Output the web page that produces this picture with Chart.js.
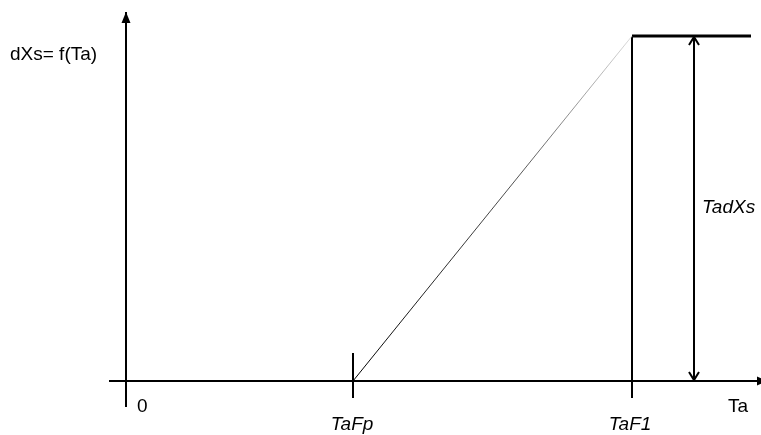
<!DOCTYPE html>
<html>
<head>
<meta charset="utf-8">
<script src="https://cdn.jsdelivr.net/npm/chart.js@4/dist/chart.umd.min.js"></script>
<style>
  body { margin: 0; background: #fff; }
  #wrap { width: 761px; height: 435px; }
</style>
</head>
<body>
<div id="wrap"><canvas id="diagram"></canvas></div>
<script>
// schematic values (arbitrary units)
const xRange = [-12.6, 63.5];
const yRange = [-5.4, 38.1];
const tempMarks = [0, 22.7, 50.6];          // 0, TaFp, TaF1
const tempLabels = ['0', 'TaFp', 'TaF1'];
const topLevel = 34.5;                       // dXs max
const topEnd = 62.5;
const spanArrowX = 56.8;                     // TadXs dimension arrow
const xAxisLine = [-1.7, 63.4];
const yAxisLine = [-2.6, 36.9];
const tickSpan = [-1.7, 2.8];

// labels: text, x, y, align, italic
const labelText = ['dXs= f(Ta)', '0', 'TaFp', 'TaF1', 'Ta', 'TadXs'];
const labelX = [-11.6, 1.1, 22.6, 50.4, 60.2, 57.6];
const labelY = [32.1, -3.1, -4.9, -4.9, -3.1, 16.8];
const labelAlign = ['left', 'left', 'center', 'center', 'left', 'left'];
const labelItalic = [false, false, true, true, false, true];

const FONT = '"Liberation Sans", Arial, sans-serif';
const RAMP = 3; // index of the ramp dataset

function seg(data, width) {
    return {
        data: data,
        showLine: true,
        borderColor: '#000',
        borderWidth: width,
        pointRadius: 0,
        fill: false
    };
}

const arrowsAndLabels = {
    id: 'arrowsAndLabels',
    beforeDatasetsDraw(chart) {
        // ramp line fades towards the top
        const sx = chart.scales.x, sy = chart.scales.y;
        const line = chart.getDatasetMeta(RAMP).dataset;
        if (!line) return;
        const g = chart.ctx.createLinearGradient(
            sx.getPixelForValue(tempMarks[1]), sy.getPixelForValue(0),
            sx.getPixelForValue(tempMarks[2]), sy.getPixelForValue(topLevel));
        g.addColorStop(0, '#000');
        g.addColorStop(0.6, '#555');
        g.addColorStop(1, '#ddd');
        line.options.borderColor = g;
    },
    afterDatasetsDraw(chart) {
        const ctx = chart.ctx;
        const sx = chart.scales.x, sy = chart.scales.y;
        const px = v => sx.getPixelForValue(v);
        const py = v => sy.getPixelForValue(v);
        ctx.save();
        ctx.fillStyle = '#000';
        ctx.strokeStyle = '#000';

        // y axis arrow (filled)
        const yx = px(0), yt = py(yAxisLine[1]);
        ctx.beginPath();
        ctx.moveTo(yx, yt);
        ctx.lineTo(yx - 4.5, yt + 11);
        ctx.lineTo(yx + 4.5, yt + 11);
        ctx.closePath();
        ctx.fill();

        // x axis arrow (filled, runs off the edge)
        const xr = px(xAxisLine[1]), xy = py(0);
        ctx.beginPath();
        ctx.moveTo(xr - 3, xy - 4.5);
        ctx.lineTo(xr + 8, xy);
        ctx.lineTo(xr - 3, xy + 4.5);
        ctx.closePath();
        ctx.fill();

        // TadXs dimension arrow heads (open)
        const ax = px(spanArrowX), aTop = py(topLevel), aBot = py(0);
        ctx.lineWidth = 2;
        ctx.beginPath();
        ctx.moveTo(ax - 5, aTop + 9);
        ctx.lineTo(ax, aTop + 1);
        ctx.lineTo(ax + 5, aTop + 9);
        ctx.moveTo(ax - 5, aBot - 9);
        ctx.lineTo(ax, aBot - 1);
        ctx.lineTo(ax + 5, aBot - 9);
        ctx.stroke();

        // texts
        ctx.textBaseline = 'alphabetic';
        labelText.forEach((t, i) => {
            ctx.font = (labelItalic[i] ? 'italic ' : '') + '19px ' + FONT;
            ctx.textAlign = labelAlign[i];
            ctx.fillText(t, px(labelX[i]), py(labelY[i]));
        });
        ctx.restore();
    }
};

new Chart(document.getElementById('diagram'), {
    type: 'scatter',
    data: {
        datasets: [
            seg([{ x: xAxisLine[0], y: 0 }, { x: xAxisLine[1], y: 0 }], 2),
            seg([{ x: 0, y: yAxisLine[0] }, { x: 0, y: yAxisLine[1] }], 2),
            seg([{ x: tempMarks[1], y: tickSpan[0] }, { x: tempMarks[1], y: tickSpan[1] }], 2),
            seg([{ x: tempMarks[1], y: 0 }, { x: tempMarks[2], y: topLevel }], 1),
            seg([{ x: tempMarks[2], y: tickSpan[0] }, { x: tempMarks[2], y: topLevel }], 2),
            seg([{ x: tempMarks[2], y: topLevel }, { x: topEnd, y: topLevel }], 3),
            seg([{ x: spanArrowX, y: 0 }, { x: spanArrowX, y: topLevel }], 2)
        ]
    },
    options: {
        responsive: true,
        maintainAspectRatio: false,
        animation: false,
        layout: { padding: 0 },
        plugins: {
            legend: { display: false },
            tooltip: { enabled: false }
        },
        scales: {
            x: { type: 'linear', min: xRange[0], max: xRange[1], display: false },
            y: { type: 'linear', min: yRange[0], max: yRange[1], display: false }
        }
    },
    plugins: [arrowsAndLabels]
});
</script>
</body>
</html>
